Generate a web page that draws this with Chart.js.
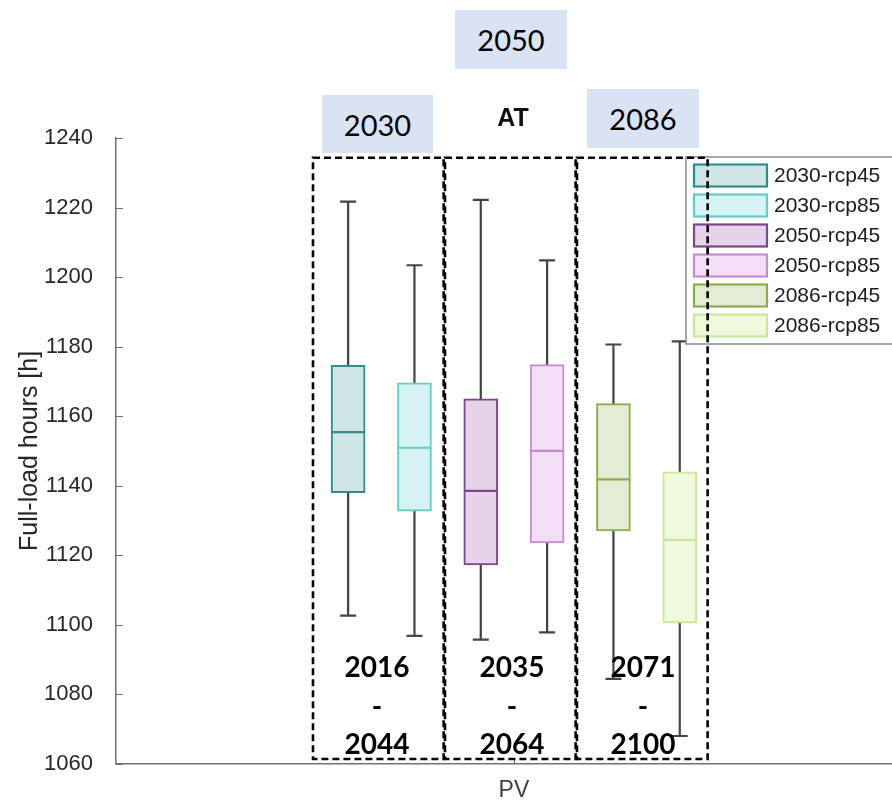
<!DOCTYPE html>
<html>
<head>
<meta charset="utf-8">
<script src="https://cdn.jsdelivr.net/npm/chart.js@4/dist/chart.umd.min.js"></script>
<style>
  html, body { margin: 0; padding: 0; background: #fff; }
  #wrap { position: relative; width: 892px; height: 800px; overflow: hidden; }
  #c { position: absolute; left: 0; top: 0; }
  .period {
    position: absolute; background: #dae3f3; color: #000;
    font-family: Lato, sans-serif; font-size: 29px;
    display: flex; align-items: center; justify-content: center;
  }
  .range {
    position: absolute; width: 110px; text-align: center; color: #000;
    font-family: Lato, sans-serif; font-weight: bold; font-size: 28px; line-height: 38.5px;
  }
  #region {
    position: absolute; color: #111; width: 60px; text-align: center;
    font-family: "Liberation Sans", Arial, sans-serif; font-weight: bold; font-size: 25px;
  }
</style>
</head>
<body>
<div id="wrap">
  <canvas id="c" width="892" height="800"></canvas>
</div>
<script>
// Full-load hours of PV in Austria, per climate period and RCP scenario
const categories = ['PV'];
const seriesLabels = ['2030-rcp45', '2030-rcp85', '2050-rcp45', '2050-rcp85', '2086-rcp45', '2086-rcp85'];
const whiskerLow  = [1102.6, 1096.8, 1095.7, 1097.8, 1084.4, 1068.0];
const quartile1   = [1138.0, 1132.7, 1117.2, 1123.5, 1127.0, 1100.5];
const medianVal   = [1155.4, 1150.9, 1138.5, 1150.0, 1141.8, 1124.4];
const quartile3   = [1174.6, 1169.6, 1165.0, 1174.8, 1163.6, 1144.0];
const whiskerHigh = [1221.7, 1203.4, 1222.2, 1204.8, 1180.6, 1181.5];
const yTicks = [1060, 1080, 1100, 1120, 1140, 1160, 1180, 1200, 1220, 1240];
const regionLabel = 'AT';
const periodLabels = ['2030', '2050', '2086'];
const periodRanges = [['2016', '2044'], ['2035', '2064'], ['2071', '2100']];

const strokeColors = ['#328c8c', '#62caca', '#7a4787', '#c28ccf', '#8cad48', '#c6e79c'];
const fillColors   = ['#cfe5e6', '#d6f2f2', '#e4d3e9', '#f4def7', '#e2ebd3', '#f0f9dc'];

// boxes sit side by side around the single category, one unit apart
const boxOffset = i => i - (seriesLabels.length - 1) / 2;

const axisColor = '#707070';
const textColor = '#262626';
const sansFamily = '"Liberation Sans", Arial, sans-serif';

const datasets = seriesLabels.map((label, i) => ({
  label,
  data: [{ x: boxOffset(i), y: [quartile1[i], quartile3[i]] }],
  backgroundColor: fillColors[i],
  borderColor: strokeColors[i],
  borderWidth: 2,
  borderSkipped: false,
  barThickness: 34,
  grouped: false
}));

// whiskers and caps, drawn underneath the boxes
const whiskerPlugin = {
  id: 'whiskers',
  beforeDatasetsDraw(chart) {
    const { ctx, scales: { x, y } } = chart;
    ctx.save();
    ctx.strokeStyle = '#444444';
    ctx.lineWidth = 2.2;
    seriesLabels.forEach((_, i) => {
      const px = x.getPixelForValue(boxOffset(i));
      const top = y.getPixelForValue(whiskerHigh[i]);
      const bot = y.getPixelForValue(whiskerLow[i]);
      ctx.beginPath();
      ctx.moveTo(px, top); ctx.lineTo(px, bot);
      ctx.moveTo(px - 8, top); ctx.lineTo(px + 8, top);
      ctx.moveTo(px - 8, bot); ctx.lineTo(px + 8, bot);
      ctx.stroke();
    });
    ctx.restore();
  }
};

// medians, inward axis ticks, legend and period frames on top of the boxes
const overlayPlugin = {
  id: 'overlay',
  afterDatasetsDraw(chart) {
    const { ctx, chartArea, scales: { x, y } } = chart;
    ctx.save();

    // median lines
    ctx.lineWidth = 2.2;
    seriesLabels.forEach((_, i) => {
      const px = x.getPixelForValue(boxOffset(i));
      const py = y.getPixelForValue(medianVal[i]);
      ctx.strokeStyle = strokeColors[i];
      ctx.beginPath();
      ctx.moveTo(px - 16, py); ctx.lineTo(px + 16, py);
      ctx.stroke();
    });

    // tick marks pointing into the plot
    ctx.strokeStyle = axisColor;
    ctx.lineWidth = 1.2;
    ctx.beginPath();
    yTicks.forEach(v => {
      const py = Math.round(y.getPixelForValue(v)) + 0.5;
      ctx.moveTo(chartArea.left, py); ctx.lineTo(chartArea.left + 7, py);
    });
    const tx = Math.round(x.getPixelForValue(0)) + 0.5;
    ctx.moveTo(tx, chartArea.bottom); ctx.lineTo(tx, chartArea.bottom - 6);
    ctx.stroke();

    // legend box
    const lx = 686, ly = 157, rowH = 30;
    const lh = 187;
    ctx.fillStyle = '#fff';
    ctx.fillRect(lx, ly, 260, lh);
    ctx.strokeStyle = '#8a8a8a';
    ctx.lineWidth = 1.5;
    ctx.strokeRect(lx, ly, 260, lh);
    ctx.font = '21px ' + sansFamily;
    ctx.textBaseline = 'middle';
    chart.data.datasets.forEach((ds, i) => {
      const cy = ly + 18.5 + i * rowH;
      ctx.fillStyle = ds.backgroundColor;
      ctx.fillRect(lx + 8, cy - 11, 73, 22);
      ctx.strokeStyle = ds.borderColor;
      ctx.lineWidth = 2.2;
      ctx.strokeRect(lx + 8, cy - 11, 73, 22);
      ctx.fillStyle = '#1a1a1a';
      ctx.fillText(ds.label, lx + 88, cy + 1);
    });

    // dashed frames around each climate period
    const frames = [[-3.03, -1.06], [-1.04, 0.93], [0.95, 2.92]];
    ctx.strokeStyle = '#000';
    ctx.lineWidth = 2.6;
    ctx.setLineDash([7, 4]);
    const fTop = y.getPixelForValue(1234.3);
    const fBot = y.getPixelForValue(1061.4);
    frames.forEach(([a, b]) => {
      const x0 = x.getPixelForValue(a), x1 = x.getPixelForValue(b);
      ctx.strokeRect(x0, fTop, x1 - x0, fBot - fTop);
    });
    ctx.restore();
  }
};

new Chart(document.getElementById('c'), {
  type: 'bar',
  data: { datasets },
  options: {
    responsive: false,
    animation: false,
    devicePixelRatio: 1,
    layout: { padding: { top: 138, right: 0, bottom: 0, left: 0 } },
    plugins: { legend: { display: false }, tooltip: { enabled: false } },
    scales: {
      x: {
        type: 'linear',
        min: -6,
        max: 5.7,
        offset: false,
        afterFit: s => { s.height = 35; },
        afterBuildTicks: s => { s.ticks = categories.map(() => ({ value: 0 })); },
        grid: { display: false, drawTicks: false },
        border: { display: true, color: axisColor, width: 1.5 },
        ticks: {
          autoSkip: false, maxRotation: 0, padding: 13,
          color: '#404040',
          font: { family: sansFamily, size: 23 },
          callback: (v) => (v === 0 ? categories[0] : '')
        }
      },
      y: {
        type: 'linear',
        min: 1060,
        max: 1240,
        afterFit: s => { s.width = 116; },
        afterBuildTicks: s => { s.ticks = yTicks.map(v => ({ value: v })); },
        grid: { display: false, drawTicks: false },
        border: { display: true, color: axisColor, width: 1.5 },
        ticks: {
          padding: 23,
          color: textColor,
          font: { family: sansFamily, size: 22 },
          callback: (v) => String(v)
        },
        title: {
          display: true,
          text: 'Full-load hours [h]',
          color: textColor,
          padding: { top: 15, bottom: 0 },
          font: { family: sansFamily, size: 25 }
        }
      }
    }
  },
  plugins: [whiskerPlugin, overlayPlugin]
});

// period boxes, region name and year spans above and inside the frames
const wrap = document.getElementById('wrap');
const periodBoxes = [
  { left: 322, top: 95, width: 111, height: 58 },
  { left: 455, top: 10, width: 112, height: 59 },
  { left: 587, top: 89, width: 112, height: 59 }
];
periodLabels.forEach((t, i) => {
  const d = document.createElement('div');
  d.className = 'period';
  Object.assign(d.style, {
    left: periodBoxes[i].left + 'px', top: periodBoxes[i].top + 'px',
    width: periodBoxes[i].width + 'px', height: periodBoxes[i].height + 'px'
  });
  d.textContent = t;
  wrap.appendChild(d);
});

const region = document.createElement('div');
region.id = 'region';
region.style.left = '483px';
region.style.top = '103px';
region.textContent = regionLabel;
wrap.appendChild(region);

const rangeCenters = [377, 512, 643];
periodRanges.forEach(([from, to], i) => {
  const d = document.createElement('div');
  d.className = 'range';
  d.style.left = (rangeCenters[i] - 55) + 'px';
  d.style.top = '647px';
  [from, '-', to].forEach(line => {
    const s = document.createElement('div');
    s.textContent = line;
    d.appendChild(s);
  });
  wrap.appendChild(d);
});
</script>
</body>
</html>
